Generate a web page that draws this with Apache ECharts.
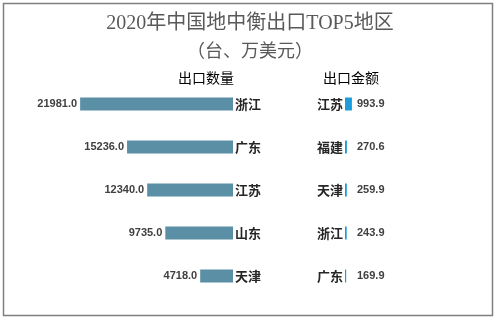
<!DOCTYPE html>
<html><head><meta charset="utf-8">
<script src="https://cdn.jsdelivr.net/npm/echarts@6/dist/echarts.min.js"></script>
<style>html,body{margin:0;padding:0;background:#fff}#c{width:500px;height:322px}</style>
</head><body><div id="c"></div>
<script>
const qtyRegions = ['浙江','广东','江苏','山东','天津'];
const qtyValues = [21981.0, 15236.0, 12340.0, 9735.0, 4718.0];
const amtRegions = ['江苏','福建','天津','浙江','广东'];
const amtValues = [993.9, 270.6, 259.9, 243.9, 169.9];
const sharedMax = 22000;

const chart = echarts.init(document.getElementById('c'));
const cjk = '"Noto Sans CJK SC", sans-serif';
chart.setOption({
  animation: false,
  backgroundColor: '#fff',
  title: [
    {text: '2020年中国地中衡出口TOP5地区', left: 'center', top: 9,
     textStyle: {fontFamily: '"Liberation Serif", "Noto Sans CJK SC", serif', fontSize: 20, fontWeight: 'normal', color: '#595959'}},
    {text: '（台、万美元）', left: 'center', top: 36,
     textStyle: {fontFamily: cjk, fontSize: 18, fontWeight: 'normal', color: '#595959'}},
    {text: '出口数量', left: 173, top: 66, textStyle: {fontFamily: cjk, fontSize: 14, fontWeight: 'normal', color: '#000'}},
    {text: '出口金额', left: 318, top: 66, textStyle: {fontFamily: cjk, fontSize: 14, fontWeight: 'normal', color: '#000'}}
  ],
  graphic: [{type: 'rect', shape: {x: 3.5, y: 3.5, width: 489, height: 312}, style: {fill: 'none', stroke: '#7f7f7f', lineWidth: 1.5}}],
  grid: [
    {left: 80, width: 153, top: 82.5, height: 215},
    {left: 345, width: 153, top: 82.5, height: 215}
  ],
  xAxis: [
    {gridIndex: 0, type: 'value', min: 0, max: sharedMax, inverse: true, show: false},
    {gridIndex: 1, type: 'value', min: 0, max: sharedMax, show: false}
  ],
  yAxis: [
    {gridIndex: 0, type: 'category', data: qtyRegions, inverse: true, position: 'right',
     axisLine: {show: false}, axisTick: {show: false},
     axisLabel: {margin: 2, fontFamily: cjk, fontSize: 13, fontWeight: 'bold', color: '#262626'}},
    {gridIndex: 1, type: 'category', data: amtRegions, inverse: true, position: 'left',
     axisLine: {show: false}, axisTick: {show: false},
     axisLabel: {margin: 2, fontFamily: cjk, fontSize: 13, fontWeight: 'bold', color: '#262626'}}
  ],
  series: [
    {type: 'bar', xAxisIndex: 0, yAxisIndex: 0, data: qtyValues, barWidth: 13,
     itemStyle: {color: '#5b8fa6'},
     label: {show: true, position: 'left', distance: 3, formatter: p => p.value.toFixed(1),
       fontFamily: '"Liberation Sans", sans-serif', fontSize: 11, fontWeight: 'bold', color: '#404040'}},
    {type: 'bar', xAxisIndex: 1, yAxisIndex: 1, data: amtValues, barWidth: 13, barMinHeight: 1,
     itemStyle: {color: '#1a9dd8'},
     label: {show: true, position: [12, '50%'], verticalAlign: 'middle', formatter: p => p.value.toFixed(1),
       fontFamily: '"Liberation Sans", sans-serif', fontSize: 11, fontWeight: 'bold', color: '#404040'}}
  ]
});
</script></body></html>
